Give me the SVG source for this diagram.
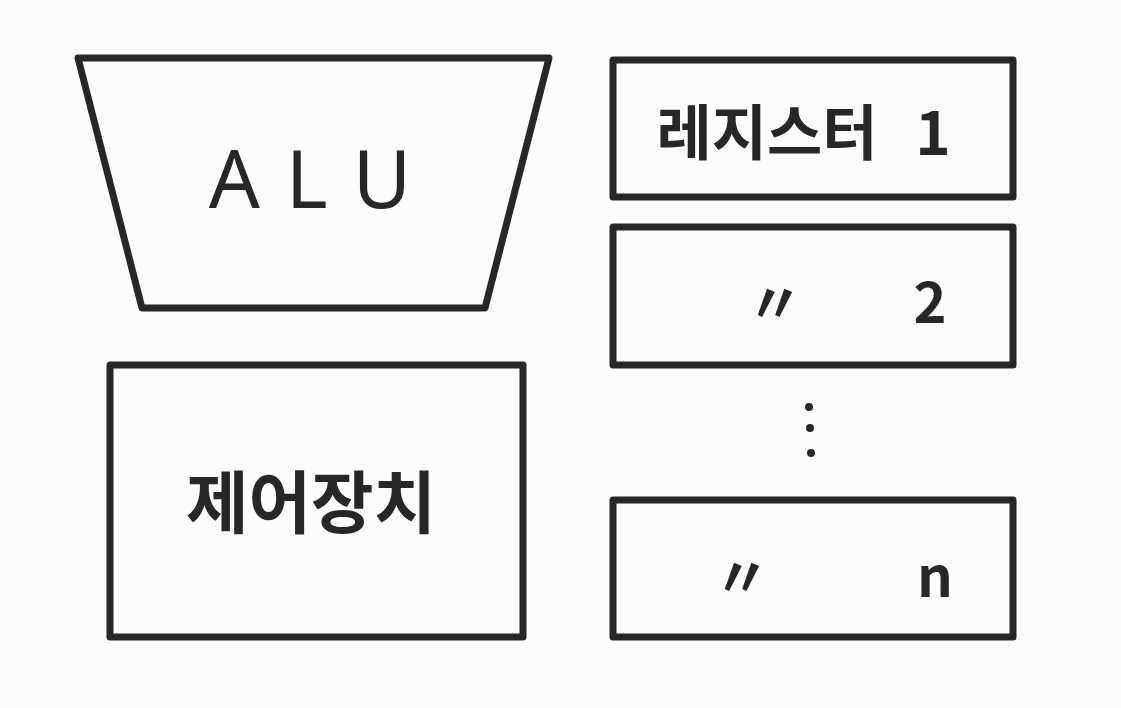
<svg xmlns="http://www.w3.org/2000/svg" width="1121" height="708" viewBox="0 0 1121 708">
<style>
.shape{fill:none;stroke:#272727;stroke-width:7;stroke-linejoin:round}
.lbl{font-family:"Noto Sans CJK KR","Noto Sans",sans-serif;fill:#272727;text-anchor:middle;dominant-baseline:central}
.dot{fill:#272727}
</style>
<rect x="0" y="0" width="1121" height="708" fill="#fcfcfc"/>
<g id="alu">
<polygon class="shape" points="78,58 549,58 485,308 142,308"/>
<text class="lbl" x="323" y="176" font-size="80" letter-spacing="26" style="font-family:'Noto Sans',sans-serif">ALU</text>
</g>
<g id="control">
<rect class="shape" x="110" y="365" width="413" height="272"/>
<text class="lbl" x="311" y="498" font-size="68" font-weight="bold">제어장치</text>
</g>
<g id="register1">
<rect class="shape" x="613" y="60" width="400" height="137"/>
<text class="lbl" x="767" y="128" font-size="60" font-weight="bold">레지스터<tspan x="933">1</tspan></text>
</g>
<g id="register2">
<rect class="shape" x="613" y="227" width="400" height="138"/>
<text class="lbl" x="775" y="298" font-size="56" font-weight="bold">〃<tspan x="930">2</tspan></text>
</g>
<g id="ellipsis">
<circle class="dot" cx="809" cy="407" r="4"/>
<circle class="dot" cx="810" cy="428" r="4"/>
<circle class="dot" cx="811" cy="453" r="4"/>
</g>
<g id="registern">
<rect class="shape" x="613" y="500" width="400" height="137"/>
<text class="lbl" x="742" y="572" font-size="56" font-weight="bold">〃<tspan x="935">n</tspan></text>
</g>
<g id="connectors"></g>
</svg>
